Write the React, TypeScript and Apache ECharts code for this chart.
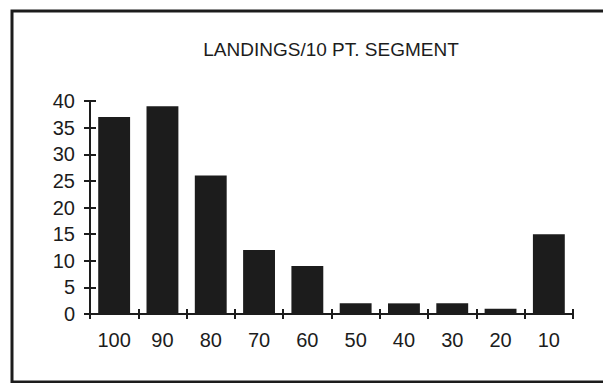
import React, { useEffect, useRef } from "react";
import * as echarts from "echarts";

const title = "LANDINGS/10 PT. SEGMENT";
const categories = ["100", "90", "80", "70", "60", "50", "40", "30", "20", "10"];
const landings = [37, 39, 26, 12, 9, 2, 2, 2, 1, 15];
const yMin = 0;
const yMax = 40;
const yInterval = 5;

const FONT = "'Liberation Sans', Arial, sans-serif";
const INK = "#1c1c1c";

export default function App() {
  const ref = useRef<HTMLDivElement>(null);
  useEffect(() => {
    if (!ref.current) return;
    const chart = echarts.init(ref.current, undefined, { renderer: "svg" });
    chart.setOption({
      animation: false,
      backgroundColor: "#ffffff",
      title: {
        text: title,
        left: 326,
        textAlign: "center",
        top: 35,
        textStyle: { fontFamily: FONT, fontSize: 19, fontWeight: "normal", color: INK },
      },
      graphic: [
        {
          type: "rect",
          shape: { x: 12, y: 11, width: 640, height: 371 },
          style: { fill: "none", stroke: INK, lineWidth: 3 },
          silent: true,
        },
      ],
      grid: { left: 90, right: 30, top: 101, bottom: 69, containLabel: false },
      xAxis: [
        {
          type: "category",
          data: categories,
          position: "bottom",
          axisLine: { show: true, lineStyle: { color: INK, width: 2 } },
          axisTick: { show: true, length: 5, lineStyle: { color: INK, width: 2 } },
          axisLabel: { fontFamily: FONT, fontSize: 20, color: INK, margin: 16 },
          splitLine: { show: false },
        },
        {
          type: "category",
          data: categories,
          position: "bottom",
          axisLine: { show: false },
          axisTick: { show: true, inside: true, length: 5, lineStyle: { color: INK, width: 2 } },
          axisLabel: { show: false },
          splitLine: { show: false },
        },
      ],
      yAxis: [
        {
          type: "value",
          min: yMin,
          max: yMax,
          interval: yInterval,
          axisLine: { show: true, lineStyle: { color: INK, width: 2 } },
          axisTick: { show: true, length: 6, lineStyle: { color: INK, width: 2 } },
          axisLabel: { fontFamily: FONT, fontSize: 20, color: INK, margin: 15 },
          splitLine: { show: false },
        },
        {
          type: "value",
          min: yMin,
          max: yMax,
          interval: yInterval,
          position: "left",
          axisLine: { show: false },
          axisTick: { show: true, inside: true, length: 6, lineStyle: { color: INK, width: 2 } },
          axisLabel: { show: false },
          splitLine: { show: false },
        },
      ],
      series: [
        {
          type: "bar",
          data: landings,
          xAxisIndex: 0,
          yAxisIndex: 0,
          barCategoryGap: "34%",
          itemStyle: { color: INK },
        },
      ],
    });
    return () => chart.dispose();
  }, []);
  return (
    <div
      ref={ref}
      style={{ position: "absolute", left: 0, top: 0, width: 603, height: 383 }}
    />
  );
}
